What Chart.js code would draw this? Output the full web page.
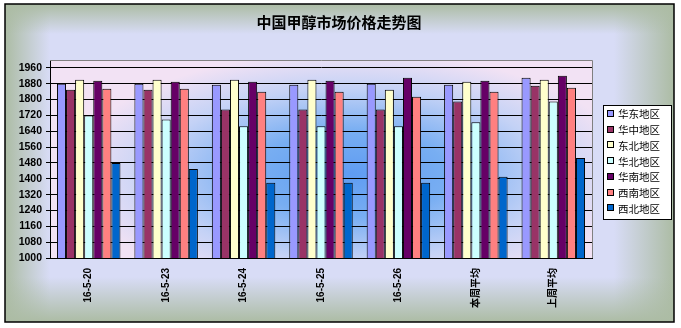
<!DOCTYPE html>
<html>
<head>
<meta charset="utf-8">
<script src="https://cdn.jsdelivr.net/npm/chart.js@4/dist/chart.umd.min.js"></script>
<style>
html,body{margin:0;padding:0;background:#fff;}
#wrap{width:681px;height:328px;position:relative;}
</style>
</head>
<body>
<div id="wrap"><canvas id="c" width="681" height="328"></canvas></div>
<script>
const chartTitle = '中国甲醇市场价格走势图';
const categories = ['16-5-20', '16-5-23', '16-5-24', '16-5-25', '16-5-26', '本周平均', '上周平均'];
const seriesNames = ['华东地区', '华中地区', '东北地区', '华北地区', '华南地区', '西南地区', '西北地区'];
const huadong  = [1880, 1880, 1875, 1875, 1880, 1875, 1910];
const huazhong = [1850, 1850, 1750, 1750, 1750, 1790, 1870];
const dongbei  = [1900, 1900, 1900, 1900, 1850, 1890, 1900];
const huabei   = [1720, 1700, 1665, 1665, 1665, 1685, 1790];
const huanan   = [1895, 1890, 1890, 1895, 1910, 1895, 1920];
const xinan    = [1855, 1855, 1840, 1840, 1815, 1840, 1860];
const xibei    = [1480, 1450, 1380, 1380, 1380, 1410, 1505];
const yTickLabels = [1000, 1080, 1160, 1240, 1320, 1400, 1480, 1560, 1640, 1720, 1800, 1880, 1960];
const yMin = 1000, yMax = 2000;

const seriesValues = [huadong, huazhong, dongbei, huabei, huanan, xinan, xibei];
const seriesColors = ['#9999FF', '#993366', '#FFFFCC', '#CCFFFF', '#660066', '#FF8080', '#0066CC'];

const bgPlugin = {
  id: 'bgPlugin',
  beforeDraw(chart) {
    const ctx = chart.ctx;
    const W = chart.width, H = chart.height;
    ctx.save();
    ctx.fillStyle = '#ffffff';
    ctx.fillRect(0, 0, W, H);
    const L = 5, T = 4, R = 674, B = 322;
    ctx.fillStyle = '#d8dcf6';
    ctx.fillRect(L, T, R - L, B - T);
    const edge = 'rgba(172,188,164,1)';
    const clear = 'rgba(172,188,164,0)';
    let g;
    g = ctx.createLinearGradient(L, 0, L + 45, 0); g.addColorStop(0, edge); g.addColorStop(1, clear);
    ctx.fillStyle = g; ctx.fillRect(L, T, 45, B - T);
    g = ctx.createLinearGradient(R, 0, R - 60, 0); g.addColorStop(0, edge); g.addColorStop(1, clear);
    ctx.fillStyle = g; ctx.fillRect(R - 60, T, 60, B - T);
    g = ctx.createLinearGradient(0, T, 0, T + 30); g.addColorStop(0, edge); g.addColorStop(1, clear);
    ctx.fillStyle = g; ctx.fillRect(L, T, R - L, 30);
    g = ctx.createLinearGradient(0, B, 0, B - 45); g.addColorStop(0, edge); g.addColorStop(1, clear);
    ctx.fillStyle = g; ctx.fillRect(L, B - 45, R - L, 45);
    ctx.strokeStyle = '#000';
    ctx.lineWidth = 1.5;
    ctx.strokeRect(L, T, R - L, B - T);

    const a = chart.chartArea;
    const cx = (a.left + a.right) / 2 + 30, cy = (a.top + a.bottom) / 2 + 15;
    const rx = (a.right - a.left) * 0.52, ry = (a.bottom - a.top) * 0.62;
    ctx.save();
    ctx.beginPath(); ctx.rect(a.left, a.top, a.right - a.left, a.bottom - a.top); ctx.clip();
    ctx.translate(cx, cy); ctx.scale(rx / ry, 1);
    const rg = ctx.createRadialGradient(0, 0, 0, 0, 0, ry);
    rg.addColorStop(0, '#5f9cf2');
    rg.addColorStop(0.35, '#78aef2');
    rg.addColorStop(0.7, '#c4d2f6');
    rg.addColorStop(1, '#f2e2f4');
    ctx.fillStyle = rg;
    ctx.fillRect(-cx * 3, -cy * 3, 2000, 2000);
    ctx.restore();
    ctx.restore();
  },
  afterDraw(chart) {
    const ctx = chart.ctx;
    const a = chart.chartArea;
    ctx.save();
    ctx.strokeStyle = '#808080';
    ctx.lineWidth = 1;
    ctx.beginPath();
    ctx.moveTo(a.left, a.top + 0.5); ctx.lineTo(a.right + 0.5, a.top + 0.5); ctx.lineTo(a.right + 0.5, a.bottom);
    ctx.stroke();
    // legend
    const lx = 603.5, ly = 105.5, lw = 68, lh = 114;
    ctx.fillStyle = '#ffffff';
    ctx.fillRect(lx, ly, lw, lh);
    ctx.strokeStyle = '#000';
    ctx.lineWidth = 1;
    ctx.strokeRect(lx, ly, lw, lh);
    ctx.font = '10.5px "Noto Sans CJK SC", sans-serif';
    ctx.textBaseline = 'middle';
    chart.data.datasets.forEach((ds, i) => {
      const y = 114 + i * 15.7;
      ctx.fillStyle = ds.backgroundColor;
      ctx.fillRect(607.5, Math.round(y) - 3.5, 6, 6);
      ctx.strokeStyle = '#000';
      ctx.strokeRect(607.5, Math.round(y) - 3.5, 6, 6);
      ctx.fillStyle = '#000';
      ctx.fillText(ds.label, 618, y + 0.5);
    });
    ctx.restore();
  },
  afterLayout(chart) {
    const t = chart.titleBlock;
    if (t) { t.left = 0; t.right = 678; t.width = 678; }
  }
};

new Chart(document.getElementById('c'), {
  type: 'bar',
  data: {
    labels: categories,
    datasets: seriesNames.map((name, i) => ({
      label: name,
      data: seriesValues[i],
      backgroundColor: seriesColors[i],
      borderColor: '#000000',
      borderWidth: 1,
      borderSkipped: 'bottom',
      categoryPercentage: 0.82,
      barPercentage: 1.0
    }))
  },
  options: {
    responsive: false,
    animation: false,
    devicePixelRatio: 1,
    layout: { padding: { left: 10, right: 89, top: 0, bottom: 10 } },
    plugins: {
      legend: { display: false },
      tooltip: { enabled: false },
      title: {
        display: true,
        text: chartTitle,
        color: '#000',
        font: { family: '"Noto Sans CJK SC", sans-serif', size: 15, weight: 'bold' },
        padding: { top: 13, bottom: 29 }
      }
    },
    scales: {
      x: {
        grid: { display: false, drawTicks: false },
        border: { display: true, color: '#000', width: 1 },
        ticks: {
          color: '#000',
          minRotation: 90,
          maxRotation: 90,
          padding: 10,
          autoSkip: false,
          font: { family: '"Liberation Sans", "Noto Sans CJK SC", sans-serif', size: 10, weight: 'bold' }
        },
        afterFit(scale) { scale.height = 60; }
      },
      y: {
        min: yMin,
        max: yMax,
        grid: { color: '#000', lineWidth: 1, drawTicks: true, tickLength: 4, tickColor: '#000' },
        border: { display: true, color: '#000', width: 1 },
        ticks: {
          color: '#000',
          padding: 4,
          autoSkip: false,
          callback: (v) => String(v),
          font: { family: '"Liberation Sans", sans-serif', size: 10.5, weight: 'bold' }
        },
        afterBuildTicks(scale) { scale.ticks = yTickLabels.map(v => ({ value: v })); },
        afterFit(scale) { scale.width = 40; }
      }
    }
  },
  plugins: [bgPlugin]
});
</script>
</body>
</html>
